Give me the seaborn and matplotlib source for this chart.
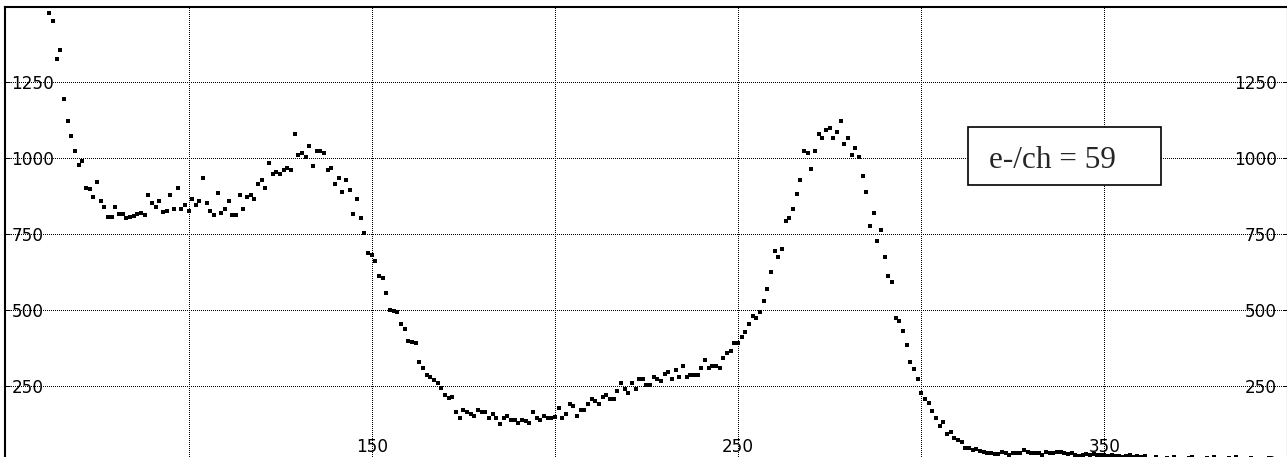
# Channel spectrum scatter, recreated with seaborn

import numpy as np
import pandas as pd
import matplotlib
matplotlib.use("Agg")
import matplotlib.pyplot as plt
from matplotlib.patches import Rectangle
import seaborn as sns

# ----------------------------
# Data (one count per channel)
# ----------------------------
first_channel = 62

counts_rise = [  # channels 62 - 147
    1478, 1453, 1326, 1358, 1195, 1124, 1074, 1024, 979, 992,
    903, 898, 871, 923, 859, 840, 807, 807, 840, 816,
    816, 802, 807, 810, 815, 821, 814, 879, 854, 840,
    859, 822, 827, 879, 833, 903, 833, 847, 827, 865,
    847, 859, 934, 854, 827, 814, 885, 821, 833, 859,
    814, 814, 878, 833, 871, 878, 865, 916, 928, 903,
    985, 948, 954, 948, 960, 967, 960, 1080, 1011, 1017,
    1005, 1042, 973, 1024, 1024, 1017, 960, 967, 916, 935,
    890, 928, 896, 815, 865, 802,
]
counts_valley = [  # channels 148 - 263
    752, 689, 681, 662, 612, 606, 555, 500, 497, 492,
    453, 436, 397, 395, 390,
    329, 309, 284, 278, 269, 258, 241, 219, 208, 214,
    163, 143, 170, 163, 157, 150, 170, 163, 163, 143,
    157, 143, 125, 143, 150, 138, 138, 126, 137, 132,
    126, 163, 143, 138, 150, 143, 143, 147, 175, 143,
    157, 189, 182, 150, 169, 170, 189, 207, 201, 189,
    214, 220, 207, 207, 233, 258, 240, 225, 258, 240,
    271, 271, 252, 252, 278, 271, 264, 290, 296, 271,
    303, 278, 315, 278, 284, 284, 284, 308, 334, 308,
    315, 315, 308, 341, 359, 365, 390, 390, 410, 428,
    453, 479, 472, 493, 529, 568, 624, 693, 674, 700,
    794,
]
counts_peak = [  # channels 264 - 313
    802, 834, 883, 927, 1023, 1016, 966, 1023, 1080, 1067,
    1093, 1100, 1067, 1086, 1124, 1048, 1067, 1010, 1035, 1003,
    940, 890, 776, 820, 726, 763, 675, 611, 592, 472,
    465, 429, 384, 328, 304, 272, 225, 206, 194, 168,
    145, 118, 131, 91, 96, 77, 71, 63, 44, 44,
]
counts_tail = [  # channels 314 - 399
    38, 40, 36, 31, 27, 27, 25, 25, 31, 29,
    21, 27, 27, 29, 38, 32, 29, 27, 27, 23,
    32, 29, 29, 32, 31, 29, 25, 27, 23, 19,
    21, 25, 21, 24, 20, 22,
    20, 18, 22, 17, 19, 16, 18, 20, 15, 17,
    16, 18,
    9, 8, 16, 9, 7, 10, 8, 15, 9, 8,
    7, 10, 16, 8, 9, 7, 10, 8, 15, 9,
    7, 8, 10, 9, 15, 8, 7, 9, 10, 8,
    7, 9, 8, 10, 7, 9, 8, 7,
]

x_grid = [100, 150, 200, 250, 300, 350]
x_labels = [150, 250, 350]
y_grid = [250, 500, 750, 1000, 1250]
y_labels_left = [250, 500, 750, 1000, 1250]
y_labels_right = [0, 250, 500, 750, 1000, 1250]
note_text = "e-/ch = 59"

counts = counts_rise + counts_valley + counts_peak + counts_tail
df = pd.DataFrame({
    "channel": np.arange(first_channel, first_channel + len(counts)),
    "counts": counts,
})

# ----------------------------
# Plot
# ----------------------------
sns.set_style("white")
plt.rcParams["font.family"] = ["DejaVu Sans"]

fig = plt.figure(figsize=(12.87, 4.57), dpi=100)
ax = fig.add_axes([0.00412, -0.00985, 0.99642, 0.99519])

sns.scatterplot(data=df, x="channel", y="counts", marker="s", s=5,
                color="black", linewidth=0, legend=False, ax=ax, zorder=3)

ax.set_xlim(50, 400)
ax.set_ylim(0, 1500)
ax.set_xticks(x_grid)
ax.set_yticks(y_grid)
ax.set_xlabel("")
ax.set_ylabel("")
# dotted grid: 1 px dot, 2 px gap
ax.grid(True, color="black", linestyle=(0, (1, 2)), linewidth=0.72,
        antialiased=False)
ax.tick_params(labelleft=False, labelbottom=False, left=True, right=True,
               bottom=False, direction="in", length=3.5, width=0.72,
               color="black")
for side in ax.spines:
    ax.spines[side].set_color("black")
    ax.spines[side].set_linewidth(1.5)

# tick labels drawn inside the frame
label_kw = dict(fontsize=12.2, color="black", va="center_baseline")
for v in y_labels_left:
    ax.text(0.0048, v, str(v), transform=ax.get_yaxis_transform(),
            ha="left", **label_kw)
for v in y_labels_right:
    ax.text(0.9915, v, str(v), transform=ax.get_yaxis_transform(),
            ha="right", **label_kw)
for v in x_labels:
    ax.text(v, 0.036, str(v), transform=ax.get_xaxis_transform(),
            ha="center", **label_kw)

# boxed note
fig.patches.append(Rectangle((0.7521, 0.5952), 0.1503, 0.1276,
                             transform=fig.transFigure, facecolor="white",
                             edgecolor="black", linewidth=1.2, zorder=5))
fig.text(0.7685, 0.633, note_text, family="Liberation Serif", fontsize=22.5,
         ha="left", va="baseline", zorder=6)

fig.savefig("out.png", dpi=100)
